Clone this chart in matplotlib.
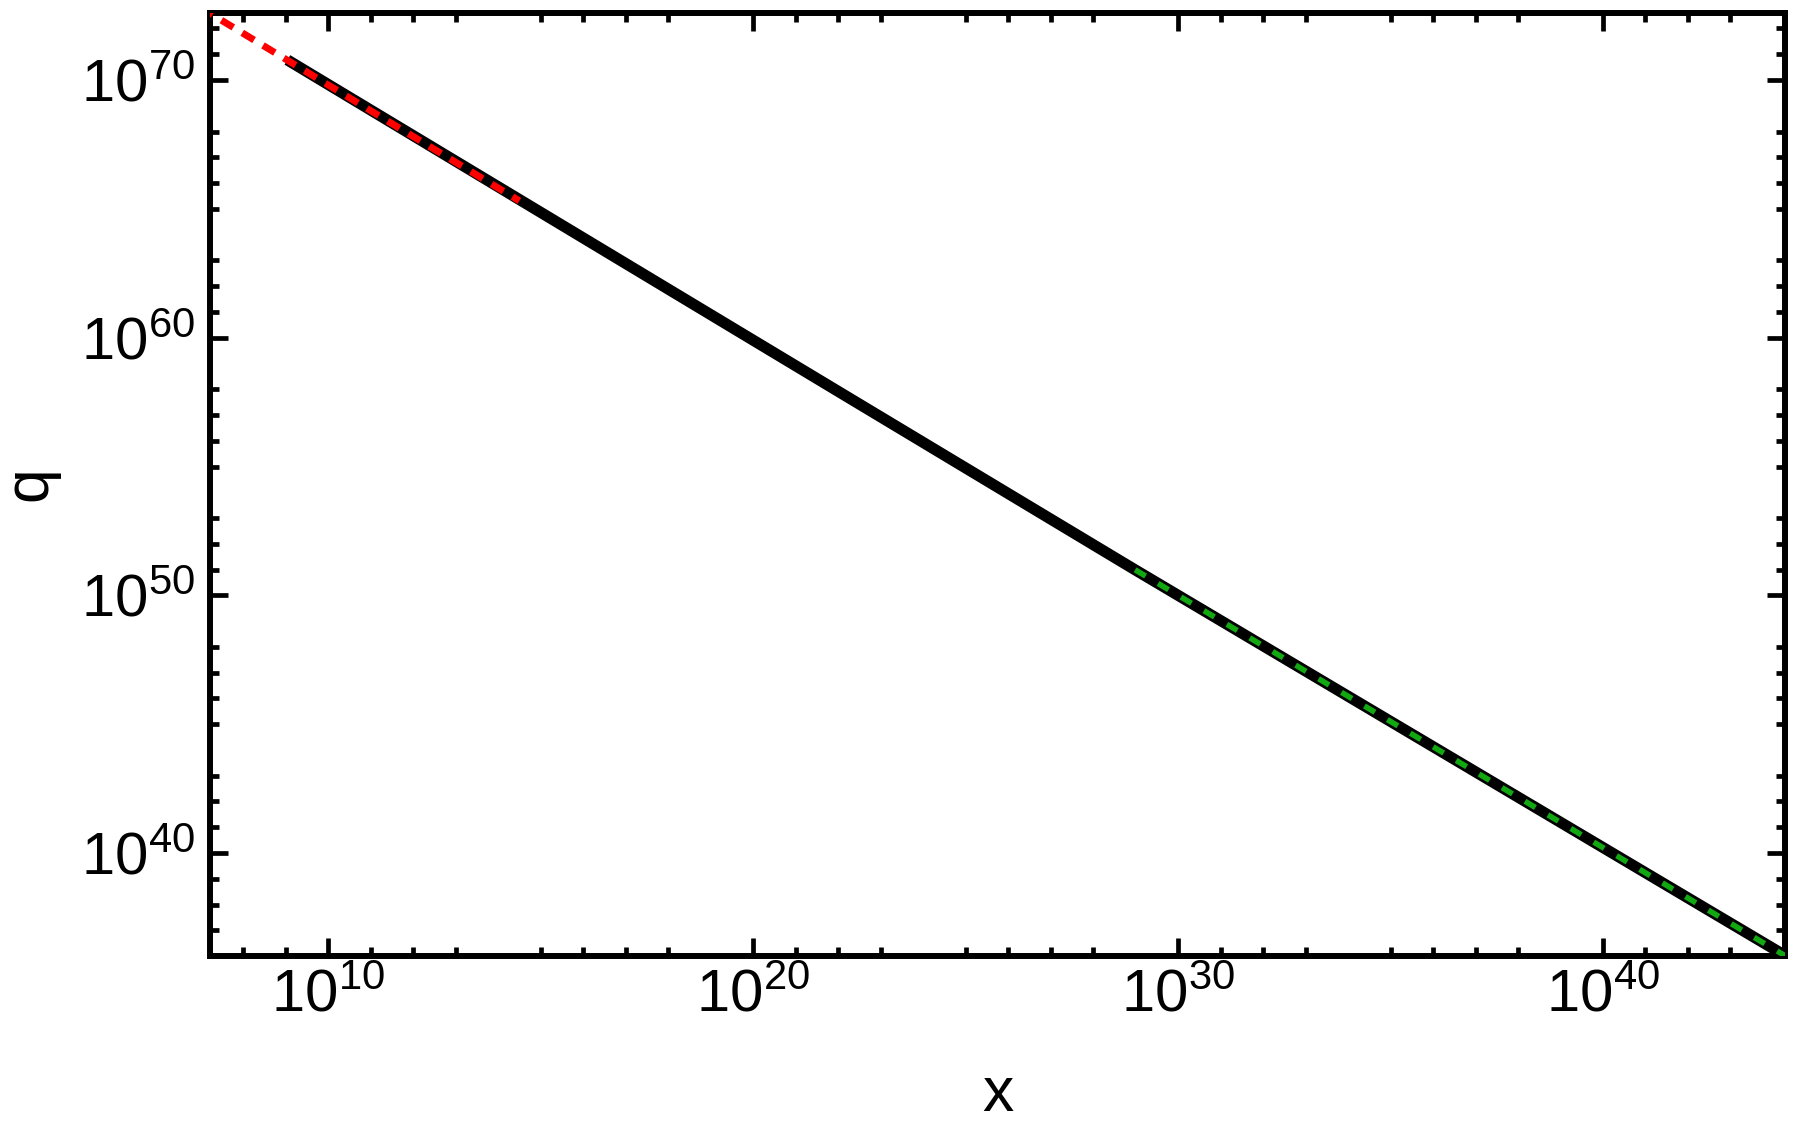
import matplotlib
matplotlib.use("Agg")
import matplotlib.pyplot as plt

plt.rcParams['font.family'] = ['Liberation Sans', 'DejaVu Sans']
plt.rcParams['mathtext.default'] = 'regular'

# values (log-log straight segments)
black_x = [1.10e9, 1.12e22, 9.77e28, 1.91e44]
black_q = [6.03e70, 7.41e57, 9.77e50, 1.05e36]

red_x = [1.0e7, 3.16e14]
red_q = [6.46e72, 2.04e65]

green_x = [9.77e28, 2.51e44]
green_q = [9.77e50, 7.94e35]

x_major = [10, 20, 30, 40]
x_minor = [8, 9, 11, 12, 13, 15, 16, 17, 18, 21, 22, 23, 25, 26, 27, 28,
           31, 32, 33, 35, 36, 37, 38, 41, 42, 43]
y_major = [40, 50, 60, 70]
y_minor = [37, 38, 39, 41, 42, 43, 45, 46, 47, 48, 51, 52, 53, 55, 56, 57, 58,
           61, 62, 63, 65, 66, 67, 68, 71, 72]

fig = plt.figure(figsize=(18, 11.28), dpi=100)
ax = fig.add_axes([0.1169, 0.1529, 0.8747, 0.8360])

ax.plot(black_x, black_q, color='black', lw=8.0, solid_capstyle='butt', zorder=2)
ax.plot(red_x, red_q, color='#ff0000', lw=5.0, dashes=(2.0, 1.5),
        dash_capstyle='butt', zorder=3)
ax.plot(green_x, green_q, color='#12a812', lw=4.0, dashes=(2.2, 2.6),
        dash_capstyle='butt', zorder=3)

ax.set_xscale('log')
ax.set_yscale('log')
ax.set_xlim(10**7.23, 10**44.28)
ax.set_ylim(10**36.02, 10**72.62)

ax.set_xticks([10.0**e for e in x_major])
ax.set_xticklabels([r'$10^{%d}$' % e for e in x_major])
ax.set_xticks([10.0**e for e in x_minor], minor=True)
ax.set_xticklabels([], minor=True)
ax.set_yticks([10.0**e for e in y_major])
ax.set_yticklabels([r'$10^{%d}$' % e for e in y_major])
ax.set_yticks([10.0**e for e in y_minor], minor=True)
ax.set_yticklabels([], minor=True)

for s in ax.spines.values():
    s.set_linewidth(4.3)

ax.tick_params(which='both', direction='in', top=True, right=True, width=3.4)
ax.tick_params(which='major', length=13, labelsize=43)
ax.tick_params(which='minor', length=6.5)
ax.tick_params(axis='x', which='major', pad=9)
ax.tick_params(axis='y', which='major', pad=11)

ax.set_xlabel('x', fontsize=45, labelpad=30)
ax.set_ylabel('q', fontsize=45, labelpad=16)

fig.savefig('out.png', dpi=100)
